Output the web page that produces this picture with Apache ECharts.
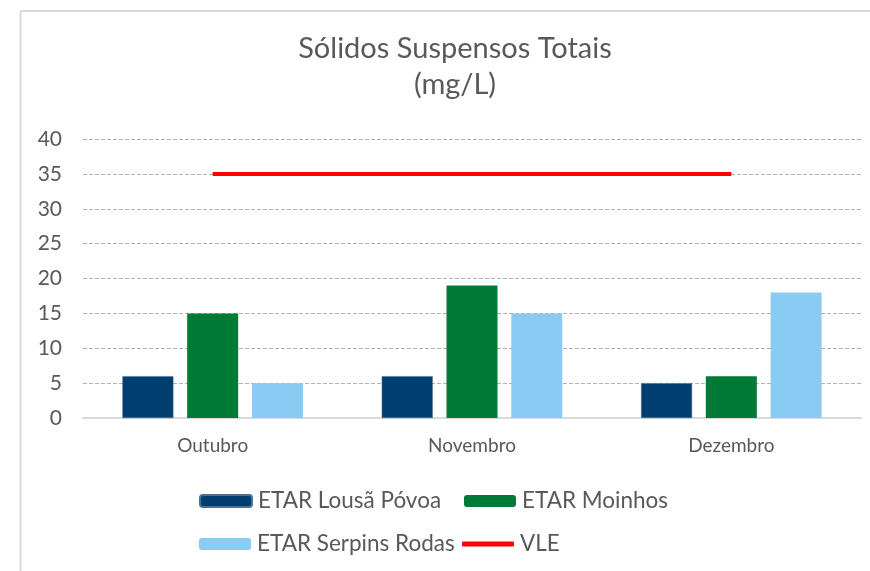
<!DOCTYPE html>
<html>
<head>
<meta charset="utf-8">
<script src="https://cdn.jsdelivr.net/npm/echarts@6/dist/echarts.min.js"></script>
<style>
html,body{margin:0;padding:0;background:#fff;}
#chart{width:870px;height:571px;}
</style>
</head>
<body>
<div id="chart"></div>
<script>
const categories = ['Outubro', 'Novembro', 'Dezembro'];
const lousaPovoa = [6, 6, 5];
const moinhos = [15, 19, 6];
const serpinsRodas = [5, 15, 18];
const vle = [35, 35, 35];
const seriesNames = ['ETAR Lousã Póvoa', 'ETAR Moinhos', 'ETAR Serpins Rodas', 'VLE'];

const FONT = 'Lato, "Open Sans", sans-serif';
const TXT = '#595959';

const chart = echarts.init(document.getElementById('chart'));
const legendBase = {
  itemWidth: 52, itemHeight: 12, itemGap: 0, padding: 0,
  textStyle: {color: TXT, fontSize: 22.5, fontFamily: FONT, lineHeight: 24, padding: [0, 0, 0, 1]},
  selectedMode: false
};
chart.setOption({
  animation: false,
  backgroundColor: '#fff',
  title: {
    text: 'Sólidos Suspensos Totais\n(mg/L)',
    left: 455,
    textAlign: 'center',
    top: 31,
    padding: 0,
    textStyle: {color: TXT, fontSize: 29, fontWeight: 'normal', fontFamily: FONT, lineHeight: 36}
  },
  graphic: [
    {type: 'line', shape: {x1: 20.5, y1: 11, x2: 870, y2: 11}, style: {stroke: '#d9d9d9', lineWidth: 2}},
    {type: 'line', shape: {x1: 20.5, y1: 11, x2: 20.5, y2: 571}, style: {stroke: '#d9d9d9', lineWidth: 2}}
  ],
  legend: [
    Object.assign({}, legendBase, {data: [seriesNames[0]], left: 199, top: 489}),
    Object.assign({}, legendBase, {data: [seriesNames[1]], left: 464, top: 489}),
    Object.assign({}, legendBase, {data: [seriesNames[2]], left: 199, top: 532}),
    Object.assign({}, legendBase, {data: [{name: seriesNames[3], icon: 'roundRect'}], left: 462, top: 532, itemHeight: 5})
  ],
  grid: {left: 83, right: 9, top: 139, bottom: 153},
  xAxis: {
    type: 'category',
    data: categories,
    axisLine: {lineStyle: {color: '#d9d9d9', width: 2}},
    axisTick: {show: false},
    axisLabel: {color: TXT, fontSize: 19, fontFamily: FONT, margin: 18}
  },
  yAxis: {
    type: 'value',
    min: 0, max: 40, interval: 5,
    axisLine: {show: false},
    axisTick: {show: false},
    axisLabel: {color: TXT, fontSize: 21, fontFamily: FONT, margin: 21},
    splitLine: {lineStyle: {color: '#b0b0b0', type: [4, 2], width: 1}}
  },
  series: [
    {name: seriesNames[0], type: 'bar', data: lousaPovoa, barWidth: 51, barGap: '27%',
     itemStyle: {color: '#003E70', borderColor: '#4a6f90', borderWidth: 0.5}},
    {name: seriesNames[1], type: 'bar', data: moinhos, barWidth: 51, barGap: '27%',
     itemStyle: {color: '#007A37'}},
    {name: seriesNames[2], type: 'bar', data: serpinsRodas, barWidth: 51, barGap: '27%',
     itemStyle: {color: '#89CBF2'}},
    {name: seriesNames[3], type: 'line', data: vle, symbol: 'none',
     lineStyle: {color: '#FF0000', width: 4}, itemStyle: {color: '#FF0000'}}
  ]
});
</script>
</body>
</html>
